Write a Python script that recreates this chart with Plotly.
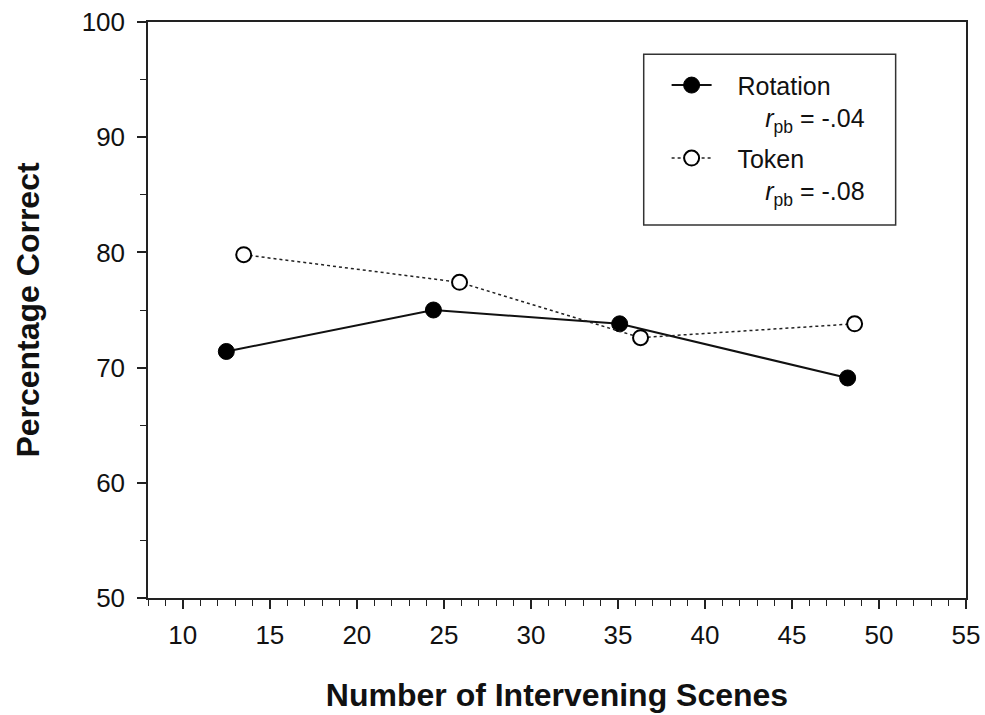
import plotly.graph_objects as go

rotation_x = [12.5, 24.4, 35.1, 48.2]
rotation_y = [71.4, 75.0, 73.8, 69.1]
token_x = [13.5, 25.9, 36.3, 48.6]
token_y = [79.8, 77.4, 72.6, 73.8]

x_ticks = [10, 15, 20, 25, 30, 35, 40, 45, 50, 55]
y_ticks = [50, 60, 70, 80, 90, 100]

NB = "\u00a0"
rot_name = NB * 3 + "Rotation<br>" + NB * 7 + "<i>r</i><sub>pb</sub> = -.04"
tok_name = NB * 3 + "Token<br>" + NB * 7 + "<i>r</i><sub>pb</sub> = -.08"

FONT = "Liberation Sans, Arial, sans-serif"

fig = go.Figure()
fig.add_trace(go.Scatter(
    x=rotation_x, y=rotation_y, mode="lines+markers", name=rot_name, legendgroup="rot",
    line=dict(color="#111111", width=2),
    marker=dict(symbol="circle", size=16, color="#000000", line=dict(color="#000000", width=1)),
))
fig.add_trace(go.Scatter(
    x=token_x, y=token_y, mode="lines+markers", name=tok_name, legendgroup="tok",
    line=dict(color="#222222", width=1.5, dash="dot"),
    marker=dict(symbol="circle", size=15, color="#ffffff", line=dict(color="#000000", width=2)),
))

fig.add_shape(type="rect", xref="paper", yref="paper",
              x0=0.606, x1=0.914, y0=0.6476, y1=0.944,
              line=dict(color="#333333", width=1.5), fillcolor="rgba(0,0,0,0)", layer="below")

fig.update_layout(
    width=985, height=715,
    margin=dict(l=148, r=19, t=22, b=117, autoexpand=False),
    plot_bgcolor="white", paper_bgcolor="white",
    font=dict(family=FONT, size=26, color="#111111"),
    showlegend=True,
    legend=dict(x=0.634, y=0.93, xanchor="left", yanchor="top",
                bgcolor="rgba(0,0,0,0)", borderwidth=0,
                font=dict(family=FONT, size=25, color="#111111"),
                valign="top", itemwidth=40, tracegroupgap=5),
    xaxis=dict(
        range=[8, 55], tickvals=x_ticks, ticktext=[str(v) for v in x_ticks],
        ticks="outside", ticklen=9, tickwidth=1.5, tickcolor="#222222",
        showline=True, linecolor="#222222", linewidth=1.5, mirror=True,
        showgrid=False, zeroline=False, automargin=False,
        minor=dict(dtick=1, tick0=0, ticks="outside", ticklen=6, tickwidth=1, tickcolor="#222222"),
        ticklabelstandoff=4,
        title=dict(text="<b>Number of Intervening Scenes</b>", font=dict(family=FONT, size=32, color="#111111"), standoff=35),
    ),
    yaxis=dict(
        range=[50, 100], tickvals=y_ticks, ticktext=[str(v) for v in y_ticks],
        ticks="outside", ticklen=9, tickwidth=1.5, tickcolor="#222222",
        showline=True, linecolor="#222222", linewidth=1.5, mirror=True,
        showgrid=False, zeroline=False, automargin=False,
        minor=dict(dtick=5, tick0=0, ticks="outside", ticklen=6, tickwidth=1, tickcolor="#222222"),
        ticklabelstandoff=7,
        title=dict(text="<b>Percentage Correct</b>", font=dict(family=FONT, size=32, color="#111111"), standoff=32),
    ),
)

fig.write_html("out.html", config={"displayModeBar": False},
               post_script="document.body.style.margin='0';document.body.style.overflow='hidden';")
